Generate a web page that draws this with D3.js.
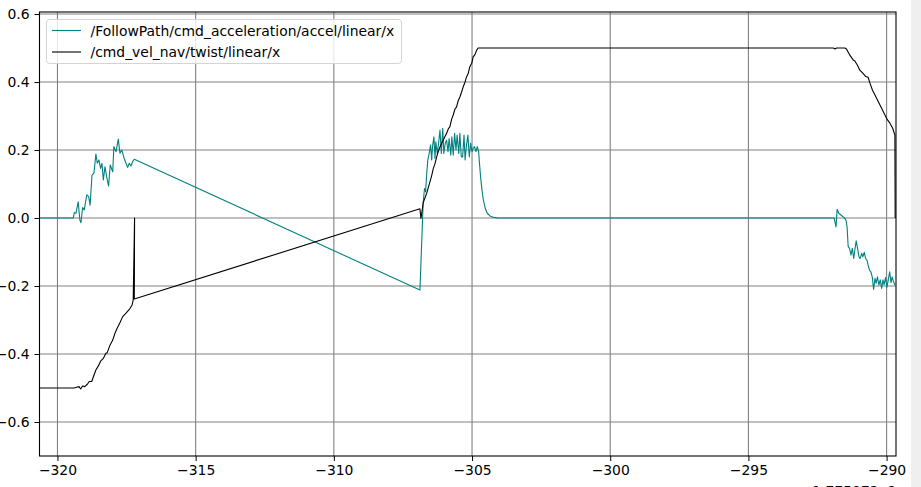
<!DOCTYPE html>
<html>
<head>
<meta charset="utf-8">
<script src="https://cdn.jsdelivr.net/npm/d3@7"></script>
<style>
  body { margin: 0; background: #fff; }
  text { font-family: "DejaVu Sans", sans-serif; }
</style>
</head>
<body>
<div id="corpo"></div>
<script>
// time axis is shown relative to the offset 1.775072e9
var xTicks = [-320, -315, -310, -305, -300, -295, -290];
var yTicks = [-0.6, -0.4, -0.2, 0.0, 0.2, 0.4, 0.6];
var xDomain = [-320.65, -289.66];
var yDomain = [-0.7, 0.606];
var offsetLabel = "1.775072e9";

var seriesNames = ["/FollowPath/cmd_acceleration/accel/linear/x", "/cmd_vel_nav/twist/linear/x"];

var accelTime = [
    -320.65, -319.43, -319.39, -319.33, -319.25, -319.19, -319.15, -319.09, -319.03, -318.94,
    -318.87, -318.82, -318.75, -318.68, -318.61, -318.56, -318.50, -318.44, -318.39, -318.34,
    -318.28, -318.22, -318.15, -318.09, -318.00, -317.96, -317.88, -317.80, -317.74, -317.67,
    -317.59, -317.52, -317.46, -317.40, -317.34, -317.28, -317.22,
    -306.885, -306.80, -306.77, -306.72, -306.68, -306.64, -306.60, -306.55, -306.50, -306.46,
    -306.43, -306.38, -306.34, -306.31, -306.26, -306.21, -306.16, -306.11, -306.06, -306.02,
    -305.97, -305.92, -305.87, -305.83, -305.77, -305.73, -305.68, -305.63, -305.58, -305.54,
    -305.48, -305.44, -305.39, -305.34, -305.29, -305.25, -305.20, -305.15, -305.10, -305.05,
    -305.00, -304.96, -304.91, -304.86, -304.81, -304.76, -304.74, -304.69, -304.64, -304.59,
    -304.52, -304.45, -304.35, -304.23, -304.05,
    -291.90, -291.83, -291.79, -291.73, -291.61, -291.54, -291.47, -291.43, -291.39, -291.34,
    -291.29, -291.24, -291.19, -291.15, -291.10, -291.05, -291.00, -290.96, -290.90, -290.86,
    -290.81, -290.76, -290.71, -290.67, -290.62, -290.57, -290.52, -290.47, -290.42, -290.38,
    -290.33, -290.28, -290.23, -290.18, -290.13, -290.09, -290.04, -289.99, -289.94, -289.89,
    -289.84, -289.80, -289.75, -289.70
];
var accelValue = [
    0, 0, 0.016, 0.014, 0.048, -0.006, -0.014, 0.031, 0.024, 0.068,
    0.063, 0.038, 0.126, 0.132, 0.188, 0.161, 0.171, 0.146, 0.161, 0.112,
    0.151, 0.121, 0.094, 0.156, 0.136, 0.21, 0.195, 0.232, 0.191, 0.2,
    0.176, 0.161, 0.149, 0.161, 0.153, 0.166, 0.173,
    -0.212, -0.026, 0.043, 0.087, 0.077, 0.131, 0.171, 0.19, 0.215, 0.171,
    0.21, 0.239, 0.176, 0.224, 0.19, 0.22, 0.259, 0.19, 0.264, 0.19,
    0.22, 0.229, 0.195, 0.234, 0.185, 0.239, 0.185, 0.249, 0.2, 0.244,
    0.19, 0.249, 0.18, 0.18, 0.244, 0.171, 0.215, 0.244, 0.18, 0.22,
    0.195, 0.205, 0.21, 0.195, 0.21, 0.195, 0.171, 0.121, 0.082, 0.053,
    0.028, 0.014, 0.006, 0.002, 0,
    0, -0.026, 0.026, 0.014, 0.006, 0.002, -0.006, -0.026, -0.084, -0.089,
    -0.109, -0.089, -0.119, -0.094, -0.067, -0.089, -0.114, -0.119, -0.104, -0.114,
    -0.101, -0.119, -0.124, -0.138, -0.153, -0.158, -0.173, -0.21, -0.177, -0.192,
    -0.173, -0.197, -0.182, -0.207, -0.182, -0.197, -0.175, -0.204, -0.182, -0.158,
    -0.19, -0.173, -0.187, -0.197
];

var velTime = [
    -320.65, -319.40, -319.31, -319.22, -319.16, -319.09, -319.01, -318.92, -318.85, -318.76,
    -318.70, -318.61, -318.52, -318.44, -318.34, -318.25, -318.20, -318.10, -318.00, -317.92,
    -317.84, -317.74, -317.64, -317.52, -317.40, -317.30, -317.26, -317.21, -317.22,
    -306.885, -306.85, -306.80, -306.77, -306.70, -306.64, -306.58, -306.52, -306.46, -306.40,
    -306.34, -306.28, -306.22, -306.16, -306.10, -306.04, -305.98, -305.92, -305.86, -305.80,
    -305.74, -305.68, -305.62, -305.56, -305.50, -305.44, -305.38, -305.32, -305.26, -305.20,
    -305.14, -305.08, -305.01, -304.96, -304.90, -304.83, -304.78, -304.71,
    -291.93, -291.87, -291.81, -291.51, -291.45, -291.33, -291.21, -291.15, -291.06, -290.97,
    -290.87, -290.75, -290.67, -290.60, -290.51, -290.42, -290.30, -290.18, -290.06, -289.98,
    -289.88, -289.78, -289.70, -289.69
];
var velValue = [
    -0.5, -0.5, -0.498, -0.496, -0.503, -0.494, -0.496, -0.489, -0.481, -0.481,
    -0.467, -0.447, -0.435, -0.421, -0.413, -0.398, -0.396, -0.374, -0.359, -0.339,
    -0.324, -0.308, -0.29, -0.28, -0.269, -0.256, -0.241, 0, -0.238,
    0.027, -0.001, 0.024, 0.044, 0.06, 0.073, 0.09, 0.107, 0.125, 0.146,
    0.16, 0.18, 0.196, 0.209, 0.22, 0.229, 0.24, 0.249, 0.262, 0.269,
    0.29, 0.303, 0.32, 0.327, 0.345, 0.356, 0.37, 0.386, 0.398, 0.415,
    0.425, 0.445, 0.455, 0.474, 0.48, 0.494, 0.5, 0.5,
    0.5, 0.497, 0.5, 0.5, 0.497, 0.479, 0.465, 0.462, 0.45, 0.435,
    0.427, 0.416, 0.414, 0.396, 0.376, 0.362, 0.342, 0.323, 0.303, 0.29,
    0.279, 0.264, 0.244, 0
];

var seriesColors = ["#008080", "#000000"];

var width = 921, height = 487;
var margin = {left: 39.5, right: 25, top: 12, bottom: 31};
var fontSize = "13.9px";

var svg = d3.select("#corpo").append("svg")
    .attr("width", width)
    .attr("height", height);

svg.append("rect").attr("width", width).attr("height", height).attr("fill", "#fff");
// grey strip at the right border of the window
svg.append("rect").attr("x", 911).attr("y", 0).attr("width", 10).attr("height", height).attr("fill", "#efefef");

var x = d3.scaleLinear().domain(xDomain).range([margin.left, width - margin.right]);
var y = d3.scaleLinear().domain(yDomain).range([height - margin.bottom, margin.top]);

svg.append("clipPath").attr("id", "plotclip")
    .append("rect")
    .attr("x", margin.left).attr("y", margin.top)
    .attr("width", width - margin.right - margin.left)
    .attr("height", height - margin.bottom - margin.top);

// grid
var grid = svg.append("g");
grid.selectAll(".gx").data(xTicks).enter().append("line")
    .attr("x1", function(d) { return x(d); }).attr("x2", function(d) { return x(d); })
    .attr("y1", y.range()[0]).attr("y2", y.range()[1])
    .attr("stroke", "#808080").attr("stroke-width", 1.1);
grid.selectAll(".gy").data(yTicks).enter().append("line")
    .attr("y1", function(d) { return y(d); }).attr("y2", function(d) { return y(d); })
    .attr("x1", x.range()[0]).attr("x2", x.range()[1])
    .attr("stroke", "#808080").attr("stroke-width", 1.1);

// series
var line = d3.line()
    .x(function(d) { return x(d[0]); })
    .y(function(d) { return y(d[1]); });

var plot = svg.append("g").attr("clip-path", "url(#plotclip)");
plot.append("path")
    .datum(d3.zip(accelTime, accelValue))
    .attr("d", line)
    .attr("fill", "none")
    .attr("stroke", seriesColors[0])
    .attr("stroke-width", 1.1)
    .attr("stroke-linejoin", "round");
plot.append("path")
    .datum(d3.zip(velTime, velValue))
    .attr("d", line)
    .attr("fill", "none")
    .attr("stroke", seriesColors[1])
    .attr("stroke-width", 1.1)
    .attr("stroke-linejoin", "round");

// axes
var xAxis = d3.axisBottom(x).tickValues(xTicks).tickSize(5).tickPadding(4)
    .tickFormat(function(d) { return d3.format("d")(d).replace("-", "\u2212"); });
var yAxis = d3.axisLeft(y).tickValues(yTicks).tickSize(5).tickPadding(5)
    .tickFormat(function(d) { return d3.format(".1f")(d).replace("-", "\u2212"); });

var gx = svg.append("g").attr("transform", "translate(0," + y.range()[0] + ")").call(xAxis);
var gy = svg.append("g").attr("transform", "translate(" + x.range()[0] + ",0)").call(yAxis);
[gx, gy].forEach(function(g) {
    g.select(".domain").remove();
    g.selectAll("text").style("font-family", "DejaVu Sans").style("font-size", fontSize).attr("fill", "#000");
    g.selectAll("line").attr("stroke", "#000").attr("stroke-width", 1);
});

// frame
svg.append("rect")
    .attr("x", x.range()[0]).attr("y", y.range()[1])
    .attr("width", x.range()[1] - x.range()[0])
    .attr("height", y.range()[0] - y.range()[1])
    .attr("fill", "none").attr("stroke", "#000").attr("stroke-width", 1.1);

// offset text, cut by the window bottom as in the original
svg.append("text")
    .attr("x", x.range()[1]).attr("y", 496)
    .attr("text-anchor", "end")
    .style("font-size", fontSize)
    .text(offsetLabel);

// legend
var legend = svg.append("g");
legend.append("rect")
    .attr("x", 46.5).attr("y", 19.5).attr("width", 355).attr("height", 44)
    .attr("rx", 3).attr("fill", "#fff").attr("fill-opacity", 0.8)
    .attr("stroke", "#d4d4d4").attr("stroke-width", 1);
seriesNames.forEach(function(name, i) {
    var ly = 30.5 + i * 21.5;
    legend.append("line")
        .attr("x1", 52).attr("x2", 81).attr("y1", ly).attr("y2", ly)
        .attr("stroke", seriesColors[i]).attr("stroke-width", 1.1);
    legend.append("text")
        .attr("x", 90.5).attr("y", ly + 5)
        .style("font-size", fontSize)
        .text(name);
});
</script>
</body>
</html>
